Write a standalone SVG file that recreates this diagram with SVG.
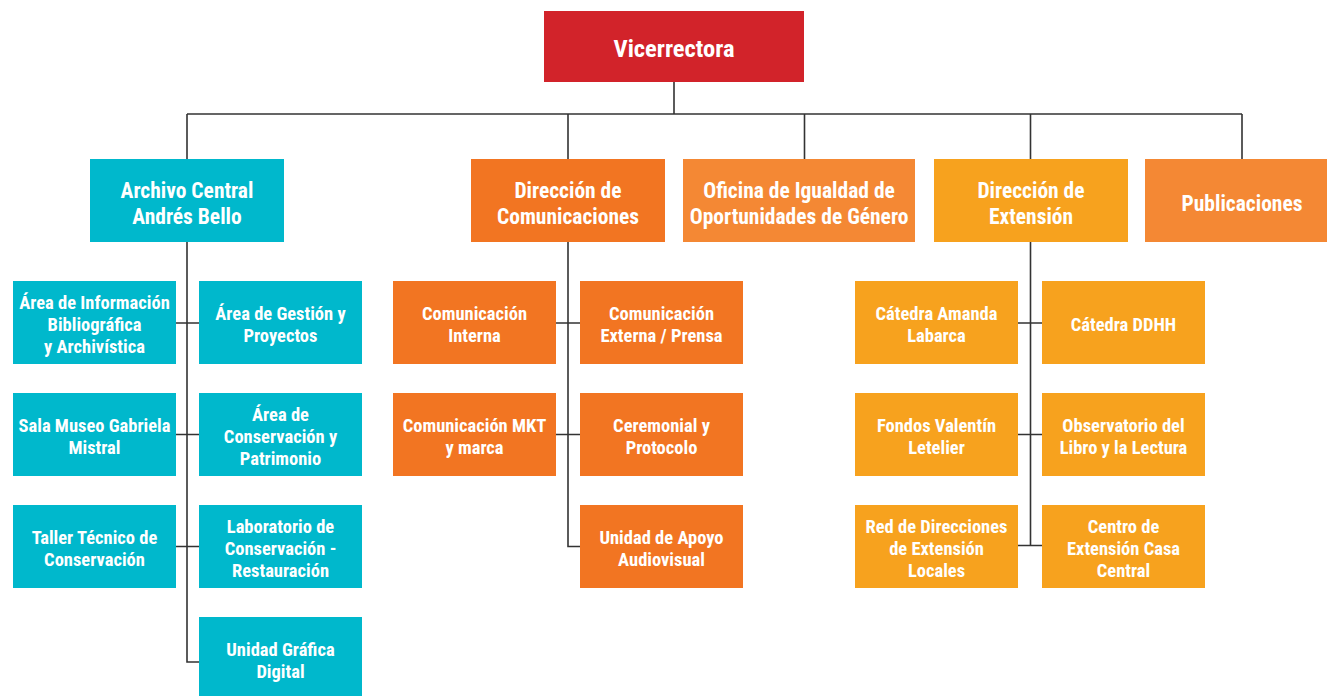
<svg xmlns="http://www.w3.org/2000/svg" width="1327" height="696" viewBox="0 0 1327 696">
<style>
text{font-family:"Liberation Sans Narrow","Roboto Condensed","DejaVu Sans Condensed","Liberation Sans",sans-serif;font-stretch:condensed;font-weight:bold;fill:#fff;text-anchor:middle}
.t0{font-size:24.5px}
.t1{font-size:21.5px}
.t2{font-size:18.5px}
.red{fill:#D2232A}
.cy{fill:#00B8CC}
.or{fill:#F27522}
.lo{fill:#F48834}
.ye{fill:#F7A21E}
.ln{fill:none;stroke:#333;stroke-width:1.6}
</style>
<g id="connectors">
<path class="ln" d="M674 82V114M187 114H1242M187 114V159M568 114V159M804.5 114V159M1030.5 114V159M1242 114V159"/>
<path class="ln" d="M187 241V662H199M176 323H199M176 434.5H199M176 546.5H199"/>
<path class="ln" d="M568 241V546.5H580M556 323H580M556 434.5H580"/>
<path class="ln" d="M1030.5 241V545.5M1018 323H1042M1018 434.5H1042M1018 545.5H1042"/>
</g>
<g id="vicerrectora"><rect class="red" x="544" y="11" width="260" height="71"/><text class="t0" x="674" y="57">Vicerrectora</text></g>
<g id="archivo"><rect class="cy" x="90" y="159" width="194" height="83"/><text class="t1" x="187" y="198">Archivo Central</text><text class="t1" x="187" y="224">Andrés Bello</text></g>
<g id="dircom"><rect class="or" x="471" y="159" width="194" height="83"/><text class="t1" x="568" y="198">Dirección de</text><text class="t1" x="568" y="224">Comunicaciones</text></g>
<g id="oficina"><rect class="lo" x="683" y="159" width="232" height="83"/><text class="t1" x="799" y="198">Oficina de Igualdad de</text><text class="t1" x="799" y="224">Oportunidades de Género</text></g>
<g id="dirext"><rect class="ye" x="934" y="159" width="194" height="83"/><text class="t1" x="1031" y="198">Dirección de</text><text class="t1" x="1031" y="224">Extensión</text></g>
<g id="publicaciones"><rect class="lo" x="1145" y="159" width="182" height="83"/><text class="t1" x="1242" y="211">Publicaciones</text></g>

<g id="a1"><rect class="cy" x="13" y="281" width="163" height="83"/><text class="t2" x="94.5" y="309">Área de Información</text><text class="t2" x="94.5" y="331">Bibliográfica</text><text class="t2" x="94.5" y="353">y Archivística</text></g>
<g id="a2"><rect class="cy" x="199" y="281" width="163" height="83"/><text class="t2" x="280.5" y="320">Área de Gestión y</text><text class="t2" x="280.5" y="342">Proyectos</text></g>
<g id="a3"><rect class="cy" x="13" y="393" width="163" height="83"/><text class="t2" x="94.5" y="432">Sala Museo Gabriela</text><text class="t2" x="94.5" y="454">Mistral</text></g>
<g id="a4"><rect class="cy" x="199" y="393" width="163" height="83"/><text class="t2" x="280.5" y="421">Área de</text><text class="t2" x="280.5" y="443">Conservación y</text><text class="t2" x="280.5" y="465">Patrimonio</text></g>
<g id="a5"><rect class="cy" x="13" y="505" width="163" height="83"/><text class="t2" x="94.5" y="544">Taller Técnico de</text><text class="t2" x="94.5" y="566">Conservación</text></g>
<g id="a6"><rect class="cy" x="199" y="505" width="163" height="83"/><text class="t2" x="280.5" y="533">Laboratorio de</text><text class="t2" x="280.5" y="555">Conservación -</text><text class="t2" x="280.5" y="577">Restauración</text></g>
<g id="a7"><rect class="cy" x="199" y="617" width="163" height="83"/><text class="t2" x="280.5" y="656">Unidad Gráfica</text><text class="t2" x="280.5" y="678">Digital</text></g>

<g id="c1"><rect class="or" x="393" y="281" width="163" height="83"/><text class="t2" x="474.5" y="320">Comunicación</text><text class="t2" x="474.5" y="342">Interna</text></g>
<g id="c2"><rect class="or" x="580" y="281" width="163" height="83"/><text class="t2" x="661.5" y="320">Comunicación</text><text class="t2" x="661.5" y="342">Externa / Prensa</text></g>
<g id="c3"><rect class="or" x="393" y="393" width="163" height="83"/><text class="t2" x="474.5" y="432">Comunicación MKT</text><text class="t2" x="474.5" y="454">y marca</text></g>
<g id="c4"><rect class="or" x="580" y="393" width="163" height="83"/><text class="t2" x="661.5" y="432">Ceremonial y</text><text class="t2" x="661.5" y="454">Protocolo</text></g>
<g id="c5"><rect class="or" x="580" y="505" width="163" height="83"/><text class="t2" x="661.5" y="544">Unidad de Apoyo</text><text class="t2" x="661.5" y="566">Audiovisual</text></g>

<g id="e1"><rect class="ye" x="855" y="281" width="163" height="83"/><text class="t2" x="936.5" y="320">Cátedra Amanda</text><text class="t2" x="936.5" y="342">Labarca</text></g>
<g id="e2"><rect class="ye" x="1042" y="281" width="163" height="83"/><text class="t2" x="1123.5" y="331">Cátedra DDHH</text></g>
<g id="e3"><rect class="ye" x="855" y="393" width="163" height="83"/><text class="t2" x="936.5" y="432">Fondos Valentín</text><text class="t2" x="936.5" y="454">Letelier</text></g>
<g id="e4"><rect class="ye" x="1042" y="393" width="163" height="83"/><text class="t2" x="1123.5" y="432">Observatorio del</text><text class="t2" x="1123.5" y="454">Libro y la Lectura</text></g>
<g id="e5"><rect class="ye" x="855" y="505" width="163" height="83"/><text class="t2" x="936.5" y="533">Red de Direcciones</text><text class="t2" x="936.5" y="555">de Extensión</text><text class="t2" x="936.5" y="577">Locales</text></g>
<g id="e6"><rect class="ye" x="1042" y="505" width="163" height="83"/><text class="t2" x="1123.5" y="533">Centro de</text><text class="t2" x="1123.5" y="555">Extensión Casa</text><text class="t2" x="1123.5" y="577">Central</text></g>
</svg>
